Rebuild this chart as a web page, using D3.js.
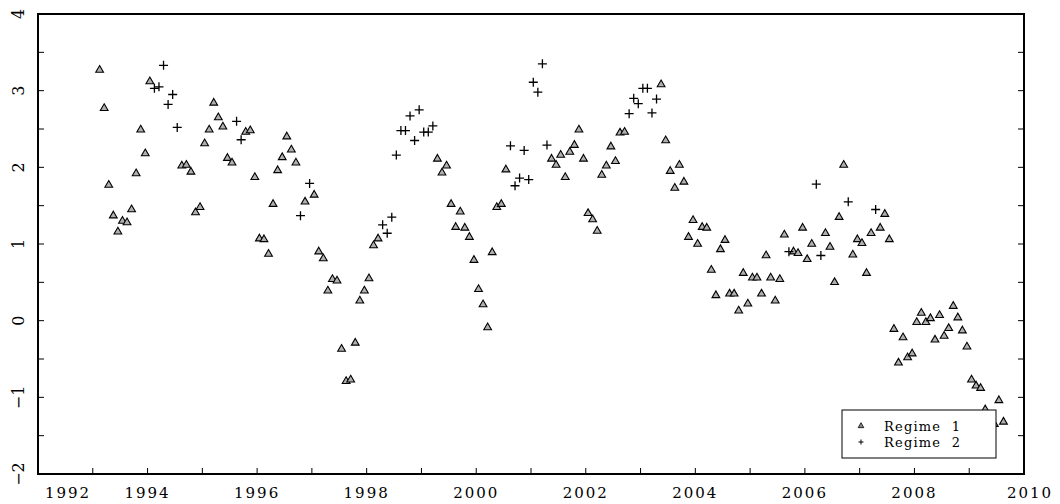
<!DOCTYPE html>
<html>
<head>
<meta charset="utf-8">
<script src="https://cdn.jsdelivr.net/npm/d3@7"></script>
<style>
  body { margin: 0; background: #fff; }
  text { font-family: "DejaVu Serif", "Liberation Serif", serif; }
</style>
</head>
<body>
<div id="chart"></div>
<script>
// monthly series, first observation Feb 1993
var startYear = 1993.125;

var values = [
  3.27, 2.77, 1.77, 1.37, 1.16, 1.30, 1.28, 1.45, 1.92, 2.49, 2.18, 3.12,
  3.03, 3.05, 3.33, 2.82, 2.95, 2.52,
  2.02, 2.03, 1.94, 1.41, 1.48, 2.31, 2.49, 2.84, 2.65, 2.53, 2.12, 2.06,
  2.60, 2.36,
  2.46, 2.48, 1.87, 1.07, 1.06, 0.87, 1.52, 1.96, 2.13, 2.40, 2.23, 2.06,
  1.37, 1.55, 1.79,
  1.64, 0.90, 0.81, 0.39, 0.54, 0.52, -0.37, -0.79, -0.77, -0.29, 0.26, 0.39, 0.55, 0.98, 1.07,
  1.25, 1.14, 1.35, 2.16, 2.48, 2.48, 2.67, 2.35, 2.75, 2.46, 2.46, 2.54,
  2.11, 1.93, 2.02, 1.52, 1.22, 1.42, 1.21, 1.09, 0.79, 0.41, 0.21, -0.09, 0.89, 1.48, 1.52, 1.97,
  2.28, 1.76, 1.86, 2.22, 1.84, 3.11, 2.98, 3.35, 2.29,
  2.11, 2.03, 2.16, 1.87, 2.20, 2.29, 2.49, 2.11, 1.40, 1.32, 1.17, 1.90, 2.02, 2.27, 2.08, 2.45, 2.46,
  2.70, 2.90, 2.83, 3.03, 3.03, 2.71, 2.89,
  3.08, 2.35, 1.95, 1.73, 2.03, 1.81, 1.09, 1.31, 1.00, 1.22, 1.21, 0.66, 0.33, 0.93, 1.05,
  0.35, 0.35, 0.13, 0.62, 0.22, 0.56, 0.56, 0.35, 0.85, 0.56, 0.26, 0.54, 1.12,
  0.90,
  0.90, 0.88, 1.21, 0.80, 1.00,
  1.78, 0.85,
  1.14, 0.96, 0.50, 1.35, 2.03,
  1.55,
  0.86, 1.06, 1.01, 0.62, 1.14,
  1.45,
  1.21, 1.39, 1.06,
  -0.11, -0.55, -0.22, -0.48, -0.43, -0.02, 0.10, -0.02, 0.03, -0.25, 0.07, -0.20, -0.10,
  0.19, 0.04, -0.13, -0.34, -0.77, -0.85, -0.88, -1.16, -1.32, -1.35, -1.04, -1.32
];

// 1 = Regime 1 (triangle), 2 = Regime 2 (plus)
var regimes = (
  "111111111111" + "222222" + "111111111111" + "22" + "111111111111" + "2" + "1" + "2" +
  "111111111111111" + "222222222222" + "1111111111111111" + "222222222" +
  "11111111111111111" + "2222222" + "1111111111111111111111111111" + "2" +
  "11111" + "22" + "11111" + "2" + "11111" + "2" + "1111111111111111111111111111"
).split("").map(Number);

if (regimes.length != values.length) console.warn("length mismatch", regimes.length, values.length);

var xTicks = [1992, 1994, 1996, 1998, 2000, 2002, 2004, 2006, 2008, 2010];
var yTicks = [-2, -1, 0, 1, 2, 3, 4];
var legendLabels = ["Regime  1", "Regime  2"];

var data = values.map(function(v, i) {
  return { t: startYear + i / 12, v: v, r: regimes[i] };
});

var W = 1060, H = 504;
var pLeft = 38, pRight = 1024, pTop = 14, pBottom = 474;

var svg = d3.select("#chart").append("svg").attr("width", W).attr("height", H);

var x = d3.scaleLinear().domain([1992, 2010]).range([pLeft, pRight]);
var y = d3.scaleLinear().domain([-2, 4]).range([pBottom, pTop]);

// frame
svg.append("rect")
   .attr("x", pLeft).attr("y", pTop)
   .attr("width", pRight - pLeft).attr("height", pBottom - pTop)
   .attr("fill", "none").attr("stroke", "#000").attr("stroke-width", 2);

// inward ticks, every year / every half unit
svg.selectAll("line.xt")
   .data(d3.range(1993, 2010))
   .enter().append("line")
   .attr("x1", function(d) { return x(d); }).attr("x2", function(d) { return x(d); })
   .attr("y1", pBottom).attr("y2", pBottom - 6)
   .attr("stroke", "#000");

svg.selectAll("line.yt")
   .data(d3.range(-1.5, 4, 0.5))
   .enter().append("line")
   .attr("x1", pLeft).attr("x2", pLeft + 6)
   .attr("y1", function(d) { return y(d); }).attr("y2", function(d) { return y(d); })
   .attr("stroke", "#000");

svg.selectAll("line.yr")
   .data(d3.range(-1.5, 4, 0.5))
   .enter().append("line")
   .attr("x1", pRight).attr("x2", pRight - 6)
   .attr("y1", function(d) { return y(d); }).attr("y2", function(d) { return y(d); })
   .attr("stroke", "#000");

svg.selectAll("text.xl")
   .data(xTicks)
   .enter().append("text")
   .attr("x", function(d) { return d == 1992 ? x(d) + 30 : (d == 2010 ? x(d) + 6 : x(d)); })
   .attr("y", 498)
   .attr("text-anchor", "middle")
   .attr("font-size", 15)
   .attr("letter-spacing", 2)
   .text(function(d) { return d; });

svg.selectAll("text.yl")
   .data(yTicks)
   .enter().append("text")
   .attr("transform", function(d) { return "translate(24," + y(d) + ") rotate(-90)"; })
   .attr("text-anchor", "middle")
   .attr("font-size", 16)
   .text(function(d) { return d < 0 ? "\u2212" + Math.abs(d) : d; });

// markers
var tri = d3.symbol().type(d3.symbolTriangle).size(26);

svg.selectAll("path.r1")
   .data(data.filter(function(d) { return d.r == 1; }))
   .enter().append("path")
   .attr("d", tri)
   .attr("transform", function(d) { return "translate(" + x(d.t) + "," + y(d.v) + ")"; })
   .attr("fill", "#b0b0b0").attr("stroke", "#000").attr("stroke-width", 1.1);

svg.selectAll("path.r2")
   .data(data.filter(function(d) { return d.r == 2; }))
   .enter().append("path")
   .attr("d", "M-4.5,0H4.5M0,-4.5V4.5")
   .attr("transform", function(d) { return "translate(" + x(d.t) + "," + y(d.v) + ")"; })
   .attr("stroke", "#000").attr("stroke-width", 1.3);

// legend
var lg = svg.append("g");
lg.append("rect")
  .attr("x", 842).attr("y", 410).attr("width", 154).attr("height", 48)
  .attr("fill", "#fff").attr("stroke", "#000");
lg.append("path")
  .attr("d", d3.symbol().type(d3.symbolTriangle).size(14))
  .attr("transform", "translate(861,426)")
  .attr("fill", "#888").attr("stroke", "#000").attr("stroke-width", 0.8);
lg.append("path")
  .attr("d", "M-2.5,0H2.5M0,-2.5V2.5")
  .attr("transform", "translate(861,442)")
  .attr("stroke", "#000");
lg.selectAll("text")
  .data(legendLabels)
  .enter().append("text")
  .attr("x", 884).attr("y", function(d, i) { return 431 + i * 16; })
  .attr("font-size", 13).attr("letter-spacing", 1.2)
  .attr("xml:space", "preserve")
  .style("white-space", "pre")
  .text(function(d) { return d; });
</script>
</body>
</html>
